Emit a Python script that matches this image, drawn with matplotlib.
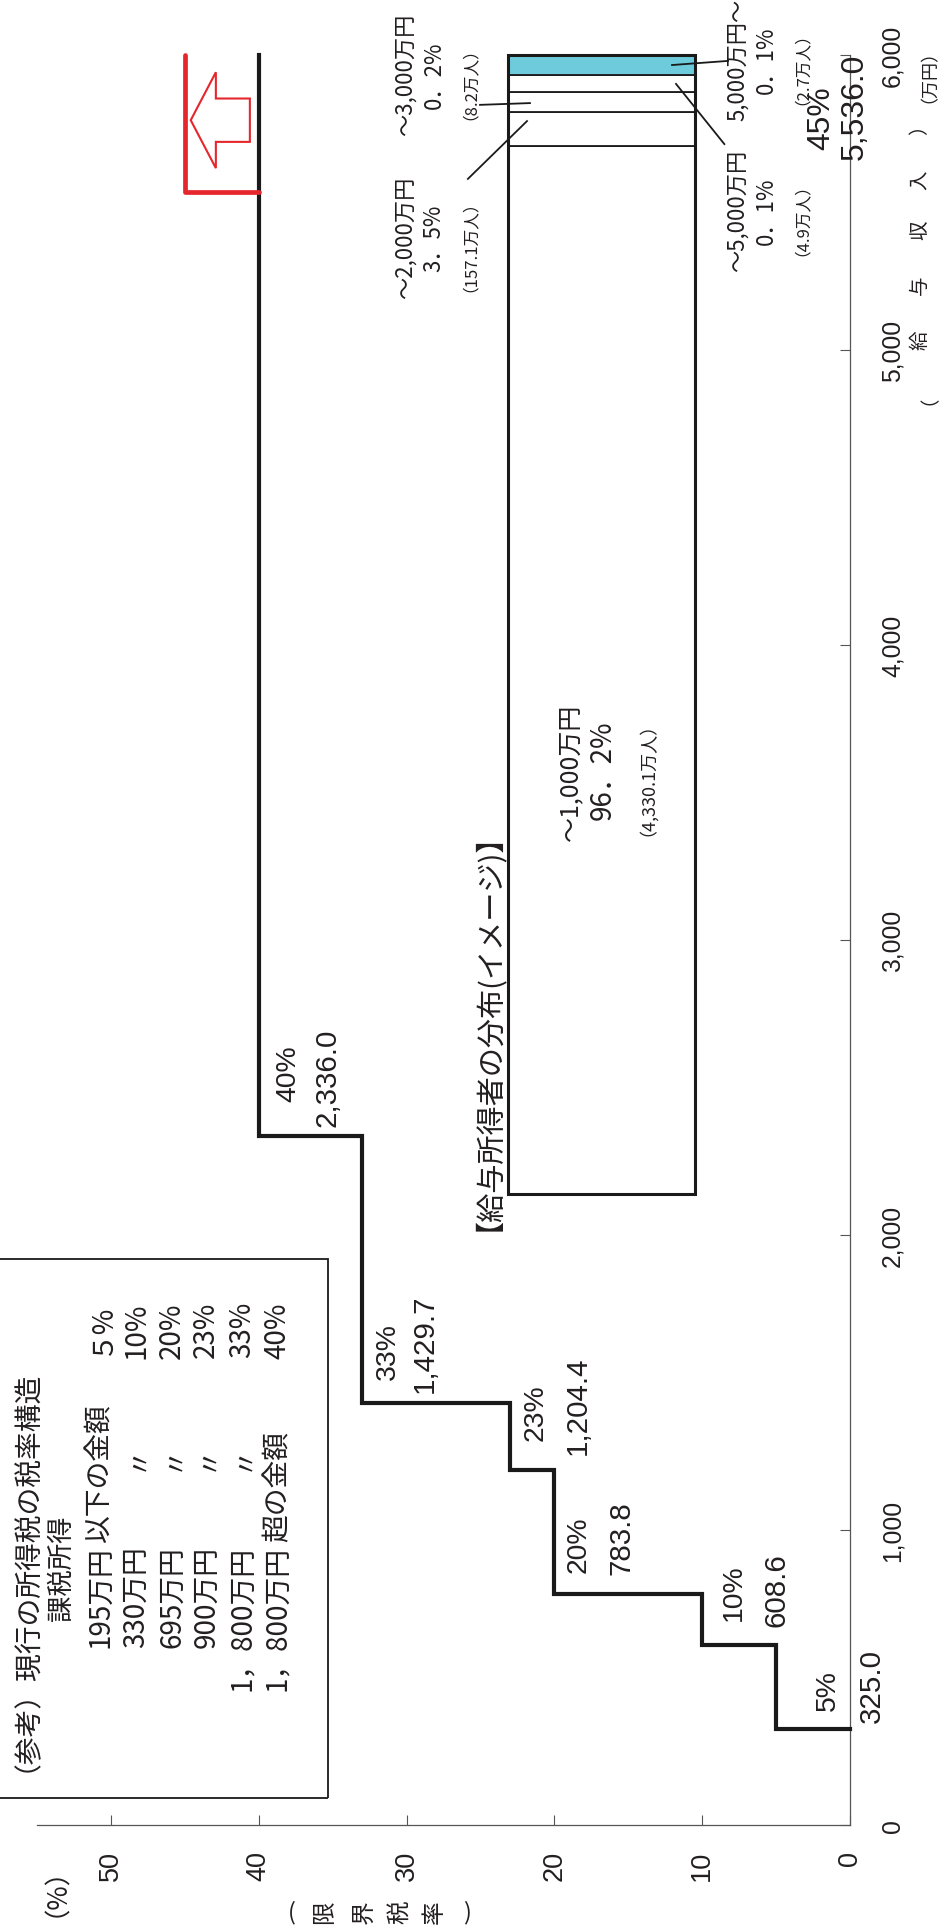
import matplotlib
matplotlib.use("Agg")
import matplotlib.pyplot as plt
from matplotlib import font_manager as fm
from matplotlib.patches import Rectangle, FancyArrow

# ---------------- data ----------------
tax_rates = [5, 10, 20, 23, 33, 40]
thresholds = [325.0, 608.6, 783.8, 1204.4, 1429.7, 2336.0]
rate_labels = ["5%", "10%", "20%", "23%", "33%", "40%"]
threshold_labels = ["325.0", "608.6", "783.8", "1,204.4", "1,429.7", "2,336.0"]
new_rate = 45
new_threshold = 5536.0
new_rate_label = "45%"
new_threshold_label = "5,536.0"
income_max = 6000

x_ticks = [0, 10, 20, 30, 40, 50]
x_tick_labels = ["0", "10", "20", "30", "40", "50"]
y_ticks = [0, 1000, 2000, 3000, 4000, 5000, 6000]
y_tick_labels = ["0", "1,000", "2,000", "3,000", "4,000", "5,000", "6,000"]

# distribution bar (image): segment edges in income units
dist_edges = [2140, 5692, 5808, 5875, 5932, 6000]
dist_colors = ["white", "white", "white", "white", "#6DCBDB"]
dist_main = ["～1,000万円", "96．2%", "（4,330.1万人）"]
dist_groups = [
    ["～2,000万円", "3．5%", "（157.1万人）"],
    ["～3,000万円", "0．2%", "（8.2万人）"],
    ["～5,000万円", "0．1%", "（4.9万人）"],
    ["5,000万円～", "0．1%", "（2.7万人）"],
]
dist_title = "【給与所得者の分布(イメージ)】"

legend_title = "（参考）現行の所得税の税率構造"
legend_head = "課税所得"
legend_amounts = ["195万円", "330万円", "695万円", "900万円", "1，800万円", "1，800万円"]
legend_suffix = ["以下の金額", "〃", "〃", "〃", "〃", "超の金額"]
legend_rates = ["５%", "10%", "20%", "23%", "33%", "40%"]

# ---------------- layout / style ----------------
names = {f.name for f in fm.fontManager.ttflist}
NARROW = "Liberation Sans Narrow" if "Liberation Sans Narrow" in names else "Liberation Sans"
nscale = 1.0 if NARROW == "Liberation Sans Narrow" else 0.85
CJK = "Noto Sans CJK JP"
TXT = "#231F20"
RED = "#E5262C"
plt.rcParams["font.family"] = [CJK, "DejaVu Sans"]

fig = plt.figure(figsize=(9.39, 19.33), dpi=100)
ax = fig.add_axes([37 / 939, 107 / 1933, 813 / 939, 1770 / 1933])
ax.set_xlim(55, 0)
ax.set_ylim(0, income_max)

for s in ["left", "top"]:
    ax.spines[s].set_visible(False)
for s in ["right", "bottom"]:
    ax.spines[s].set_color("#555555")
    ax.spines[s].set_linewidth(0.9)

ax.set_xticks(x_ticks)
ax.set_xticklabels(x_tick_labels, rotation=90, fontsize=23 * nscale,
                   family=NARROW, color=TXT)
ax.tick_params(axis="x", direction="in", length=7.5, width=0.8,
               color="#555555", pad=18)
ax.yaxis.tick_right()
ax.set_yticks(y_ticks)
ax.set_yticklabels(y_tick_labels, rotation=90, fontsize=21 * nscale,
                   family=NARROW, color=TXT, va="center")
ax.tick_params(axis="y", direction="in", length=7.5, width=0.8,
               color="#555555", pad=22)


def vtext(r, inc, s, size, family=CJK, va="center", ha="center", rot=90, **kw):
    ax.text(r, inc, s, rotation=rot, ha=ha, va=va, fontsize=size,
            family=family, color=TXT, clip_on=False, **kw)


# ---------------- staircase ----------------
xs = [0] + tax_rates
ys = thresholds + [income_max]
ax.plot(xs, ys, drawstyle="steps-post", color="#1a1a1a", lw=3.0,
        solid_joinstyle="miter", clip_on=False, zorder=4)
ax.plot([tax_rates[-1], new_rate], [new_threshold, income_max],
        drawstyle="steps-post", color=RED, lw=3.4, solid_capstyle="round",
        solid_joinstyle="round", clip_on=False, zorder=5)

ax.add_patch(FancyArrow(40.6, 5779, 4.0, 0, width=147, head_width=325,
                        head_length=1.7, length_includes_head=True,
                        facecolor="white", edgecolor=RED, linewidth=1.5,
                        zorder=6))

# step labels: (rate-label pos, value-label pos) in (rate, income)
step_pos = [
    ((1.49, 390), (-1.49, 349)),
    ((7.85, 695), (5.0, 675)),
    ((18.34, 858), (15.49, 851)),
    ((21.24, 1305), (18.40, 1258)),
    ((31.26, 1512), (28.76, 1468)),
    ((38.02, 2454), (35.32, 2370)),
]
for (rp, vp), rl, vl in zip(step_pos, rate_labels, threshold_labels):
    vtext(rp[0], rp[1], rl, 24 * nscale, family=NARROW, va="bottom")
    vtext(vp[0], vp[1], vl, 25 * nscale, family=NARROW, va="bottom")
vtext(1.96, 5681, new_rate_label, 27 * nscale, family=NARROW, va="bottom")
vtext(-0.34, 5647, new_threshold_label, 27 * nscale, family=NARROW, va="bottom")

# ---------------- distribution bar ----------------
bar_left, bar_right = 23.15, 10.5
bc = (bar_left + bar_right) / 2
bw = bar_left - bar_right
heights = [b - a for a, b in zip(dist_edges[:-1], dist_edges[1:])]
ax.bar([bc] * len(heights), heights, bottom=dist_edges[:-1], width=bw,
       color=dist_colors, edgecolor="#1a1a1a", linewidth=1.3,
       clip_on=False, zorder=3)
ax.bar(bc, dist_edges[-1] - dist_edges[0], bottom=dist_edges[0], width=bw,
       fill=False, edgecolor="#1a1a1a", linewidth=2.2, clip_on=False, zorder=3.5)

vtext(25.5, 2742, dist_title, 21)
vtext(18.9, 3573, dist_main[0], 18)
vtext(16.75, 3580, dist_main[1], 20)
vtext(14.35, 3580, dist_main[2], 13)

group_pos = [(30.1, 5383), (30.1, 5936), (7.64, 5475), (7.64, 5987)]
group_dx = [0.0, -1.96, -3.78]
group_sizes = [16, 16, 12]
for (gr, gi), grp in zip(group_pos, dist_groups):
    for dx, s, fs in zip(group_dx, grp, group_sizes):
        vtext(gr + dx, gi, s, fs)

leaders = [
    ((25.85, 5580), (21.85, 5776)),
    ((25.03, 5831), (21.65, 5837)),
    ((8.5, 5698), (11.77, 5902)),
    ((8.25, 5980), (12.04, 5966)),
]
for (a, b) in leaders:
    ax.plot([a[0], b[0]], [a[1], b[1]], color="#1a1a1a", lw=1.3,
            clip_on=False, zorder=6)

# ---------------- legend box ----------------
ax.add_patch(Rectangle((35.3, 92), 23.0, 1827, fill=False,
                       edgecolor="#1a1a1a", linewidth=1.3, clip_on=False,
                       zorder=2))
vtext(56.7, 183, legend_title, 20, va="bottom")
vtext(53.35, 695, legend_head, 19, va="bottom")
row_x = [50.75, 48.3, 45.85, 43.55, 41.12, 38.75]
for rx, am, suf, rt in zip(row_x, legend_amounts, legend_suffix, legend_rates):
    vtext(rx, 949, am, 20, va="top")
    if suf == "〃":
        vtext(rx, 1251, suf, 20, va="center")
    else:
        vtext(rx, 963, suf, 20, va="bottom")
    vtext(rx, 1776, rt, 20, va="top")

# ---------------- axis titles ----------------
vtext(54.6, -178, "（%）", 19)
rate_title_chars = ["(", "限", "界", "税", "率", ")"]
rate_title_x = [37.75, 35.52, 32.88, 30.45, 28.15, 25.91]
for ch, rx in zip(rate_title_chars, rate_title_x):
    vtext(rx, -292, ch, 17, rot=0 if ch in "()" else 90)

inc_title_chars = ["（", "給", "与", "収", "入", "）"]
inc_title_y = [4851, 5037, 5224, 5410, 5580, 5766]
for ch, iy in zip(inc_title_chars, inc_title_y):
    vtext(-4.7, iy, ch, 14)
vtext(-4.7, 5963, "（万円）", 13)

fig.savefig("out.png", dpi=100, facecolor="white")
